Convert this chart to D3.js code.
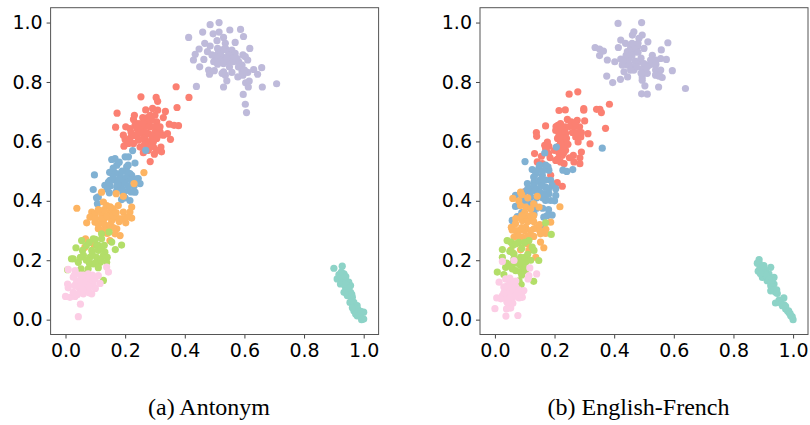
<!DOCTYPE html>
<html>
<head>
<meta charset="utf-8">
<script src="https://cdn.jsdelivr.net/npm/d3@7"></script>
<style>
  html, body { margin: 0; padding: 0; background: #fff; }
  svg { display: block; }
  .tick text { font-family: "DejaVu Sans", sans-serif; font-size: 19px; fill: #000; }
  .caption { font-family: "Liberation Serif", serif; font-size: 24px; fill: #000; text-anchor: middle; }
</style>
</head>
<body>
<script>
// values are [x, y]
var tickValues = [0, 0.2, 0.4, 0.6, 0.8, 1.0];
var captions = ["(a) Antonym", "(b) English-French"];
var groupNames = ["teal", "lavender", "salmon", "blue", "orange", "green", "pink"];
var groupColors = ["#8dd3c7", "#bebada", "#fb8072", "#80b1d3", "#fdb462", "#b3de69", "#fccde5"];

// Antonym
var antonymTeal = [[.900,.173],[.928,.180],[.917,.152],[.934,.154],[.911,.137],[.928,.137],[.939,.132],[.922,.120],[.950,.126],[.956,.115],[.939,.109],[.934,.092],[.956,.092],[.945,.081],[.962,.075],[.954,.058],[.967,.058],[.978,.047],[.967,.030],[.984,.030],[1.0,.025],[.978,.013],[.993,.0],[1.0,.002],[.973,.019],[.990,.013],[.925,.145],[.93,.125],[.94,.12],[.945,.10],[.95,.105],[.925,.16],[.94,.145],[.96,.085],[.97,.04],[.975,.025],[.985,.018],[.98,.035],[.962,.04],[.99,.028]];
var antonymLavender = [[.413,.950],[.485,.993],[.515,1.0],[.460,.968],[.495,.962],[.515,.968],[.551,.975],[.587,.977],[.597,.953],[.530,.950],[.508,.939],[.467,.930],[.485,.921],[.569,.933],[.536,.930],[.448,.911],[.510,.913],[.618,.913],[.435,.893],[.476,.902],[.429,.874],[.464,.876],[.450,.851],[.491,.891],[.502,.879],[.525,.885],[.541,.907],[.558,.907],[.569,.896],[.547,.891],[.530,.862],[.547,.868],[.564,.868],[.581,.868],[.595,.891],[.603,.885],[.611,.874],[.592,.857],[.497,.868],[.480,.840],[.483,.826],[.499,.838],[.530,.834],[.536,.823],[.541,.804],[.558,.832],[.578,.817],[.595,.823],[.611,.832],[.631,.842],[.644,.826],[.658,.848],[.604,.797],[.616,.803],[.613,.783],[.660,.783],[.708,.794],[.439,.785],[.530,.783],[.596,.758],[.603,.725],[.607,.697],[.513,.896],[.536,.913],[.519,.874],[.553,.879],[.575,.879],[.508,.891],[.525,.829],[.592,.834],[.52,.90],[.53,.87],[.55,.89],[.56,.88],[.54,.88],[.57,.88],[.51,.86],[.58,.85],[.53,.91],[.55,.85],[.60,.84]];
var antonymSalmon = [[.371,.784],[.414,.748],[.253,.750],[.304,.748],[.309,.735],[.374,.714],[.269,.706],[.292,.711],[.309,.705],[.335,.701],[.173,.695],[.231,.688],[.228,.674],[.259,.680],[.284,.688],[.300,.688],[.328,.680],[.168,.648],[.202,.649],[.233,.654],[.250,.660],[.272,.666],[.306,.666],[.348,.658],[.364,.654],[.379,.653],[.216,.643],[.239,.643],[.261,.643],[.284,.649],[.317,.649],[.194,.621],[.200,.606],[.196,.584],[.216,.610],[.211,.593],[.239,.621],[.256,.632],[.278,.626],[.300,.632],[.328,.621],[.342,.626],[.352,.607],[.244,.604],[.267,.610],[.289,.604],[.306,.610],[.278,.587],[.261,.562],[.278,.570],[.295,.581],[.320,.581],[.322,.565],[.298,.557],[.284,.532],[.228,.593],[.250,.581],[.306,.570],[.289,.671],[.317,.632],[.26,.66],[.27,.63],[.29,.62],[.28,.65],[.30,.65],[.27,.60],[.29,.59],[.26,.61],[.31,.62],[.25,.63],[.24,.66],[.23,.62],[.285,.67],[.295,.60],[.275,.68],[.31,.65],[.265,.59],[.22,.63]];
var antonymBlue = [[.225,.569],[.269,.570],[.097,.487],[.148,.496],[.155,.539],[.166,.542],[.200,.548],[.211,.548],[.233,.527],[.172,.520],[.205,.514],[.183,.492],[.216,.492],[.244,.475],[.200,.475],[.149,.469],[.093,.438],[.104,.410],[.110,.413],[.107,.390],[.132,.452],[.144,.463],[.166,.469],[.183,.486],[.205,.480],[.222,.486],[.239,.474],[.250,.458],[.233,.429],[.211,.435],[.188,.458],[.172,.446],[.147,.427],[.194,.424],[.216,.401],[.188,.404],[.166,.494],[.207,.497],[.15,.45],[.16,.48],[.18,.47],[.19,.44],[.20,.46],[.21,.45],[.22,.47],[.17,.43],[.19,.50],[.23,.45],[.16,.51],[.18,.53],[.21,.52],[.14,.44],[.22,.43],[.20,.41],[.175,.455]];
var antonymOrange = [[.263,.495],[.230,.458],[.121,.429],[.170,.424],[.194,.415],[.038,.375],[.127,.396],[.138,.384],[.177,.384],[.222,.379],[.088,.362],[.099,.356],[.121,.356],[.149,.362],[.194,.362],[.216,.362],[.222,.342],[.202,.326],[.071,.326],[.099,.328],[.127,.334],[.155,.334],[.177,.340],[.110,.306],[.144,.311],[.172,.306],[.183,.283],[.166,.289],[.067,.272],[.065,.244],[.095,.253],[.149,.266],[.082,.345],[.132,.300],[.160,.373],[.138,.345],[.11,.37],[.12,.34],[.13,.32],[.14,.35],[.15,.32],[.16,.35],[.17,.36],[.18,.33],[.19,.34],[.10,.34],[.11,.32],[.13,.37],[.15,.38],[.12,.30],[.16,.31],[.14,.29],[.205,.345]];
var antonymGreen = [[.121,.289],[.146,.295],[.054,.266],[.093,.272],[.121,.272],[.155,.261],[.188,.251],[.167,.236],[.035,.242],[.057,.233],[.104,.250],[.132,.227],[.026,.205],[.043,.193],[.060,.216],[.082,.210],[.104,.210],[.127,.216],[.138,.193],[.116,.193],[.093,.188],[.052,.171],[.076,.171],[.020,.205],[.007,.168],[.060,.154],[.127,.132],[.088,.233],[.110,.233],[.07,.25],[.08,.19],[.10,.19],[.11,.25],[.12,.24],[.09,.22],[.07,.20],[.12,.20],[.10,.27],[.05,.21],[.13,.25],[.08,.26],[.11,.175],[.14,.21]];
var antonymPink = [[.043,.010],[.050,.052],[.0,.078],[.015,.075],[.032,.078],[.088,.087],[.060,.087],[.007,.120],[.009,.107],[.116,.122],[.144,.160],[.138,.177],[.009,.169],[.026,.143],[.032,.165],[.054,.137],[.076,.154],[.110,.148],[.065,.115],[.043,.109],[.093,.120],[.071,.103],[.048,.092],[.082,.132],[.037,.126],[.026,.092],[.099,.137],[.04,.13],[.05,.115],[.06,.125],[.07,.125],[.08,.11],[.06,.10],[.05,.15],[.07,.14],[.09,.15],[.03,.115],[.08,.09],[.04,.085],[.06,.15],[.10,.105],[.03,.15]];

// English-French
var frenchTeal = [[.886,.202],[.886,.190],[.889,.176],[.883,.163],[.902,.182],[.925,.176],[.908,.165],[.897,.142],[.919,.154],[.936,.142],[.913,.131],[.925,.114],[.936,.120],[.925,.097],[.941,.092],[.947,.088],[.941,.056],[.953,.066],[.969,.073],[.964,.047],[.975,.036],[.986,.024],[.997,.010],[1.0,.0],[.992,.013],[.981,.030],[.908,.148],[.930,.131],[.895,.17],[.90,.16],[.91,.15],[.89,.155],[.92,.135],[.925,.125],[.93,.11],[.935,.10],[.945,.10],[.955,.06],[.96,.055],[.97,.05],[.975,.045],[.985,.03],[.99,.02],[.88,.19],[.90,.18]];
var frenchLavender = [[.413,.997],[.492,1.0],[.466,.969],[.461,.958],[.494,.958],[.483,.947],[.422,.941],[.513,.935],[.580,.932],[.414,.916],[.438,.930],[.336,.916],[.351,.911],[.364,.904],[.351,.889],[.558,.908],[.455,.918],[.478,.918],[.500,.913],[.444,.902],[.472,.902],[.377,.874],[.402,.868],[.422,.877],[.444,.879],[.528,.890],[.483,.868],[.500,.862],[.522,.874],[.539,.874],[.556,.879],[.575,.876],[.427,.857],[.444,.857],[.466,.840],[.433,.834],[.494,.845],[.517,.857],[.539,.840],[.556,.840],[.595,.838],[.375,.820],[.395,.798],[.421,.809],[.445,.817],[.494,.817],[.511,.829],[.494,.806],[.539,.823],[.561,.815],[.550,.829],[.503,.787],[.549,.783],[.639,.778],[.492,.760],[.511,.759],[.461,.907],[.46,.89],[.45,.88],[.44,.89],[.47,.87],[.45,.86],[.43,.87],[.48,.90],[.49,.88],[.50,.84],[.49,.83],[.53,.86],[.54,.86],[.54,.825],[.55,.82],[.51,.85],[.47,.92],[.48,.93],[.46,.93],[.455,.84],[.46,.85],[.475,.85]];
var frenchSalmon = [[.278,.767],[.249,.759],[.215,.704],[.236,.706],[.298,.710],[.298,.705],[.341,.708],[.352,.708],[.357,.697],[.384,.725],[.243,.674],[.256,.666],[.276,.671],[.301,.669],[.170,.652],[.211,.654],[.371,.644],[.139,.630],[.140,.617],[.204,.637],[.220,.643],[.237,.649],[.265,.649],[.284,.649],[.215,.621],[.237,.626],[.312,.626],[.271,.615],[.288,.615],[.279,.598],[.319,.592],[.176,.598],[.167,.587],[.181,.583],[.220,.598],[.232,.598],[.220,.576],[.237,.570],[.290,.564],[.263,.553],[.133,.559],[.156,.550],[.142,.531],[.185,.545],[.204,.536],[.226,.553],[.220,.531],[.265,.531],[.285,.545],[.285,.525],[.159,.525],[.232,.525],[.209,.461],[.187,.486],[.226,.449],[.103,.432],[.215,.635],[.225,.63],[.235,.635],[.21,.61],[.225,.61],[.24,.61],[.215,.585],[.23,.585],[.215,.56],[.23,.56],[.245,.59],[.205,.65],[.225,.65],[.22,.66],[.25,.65],[.26,.63],[.275,.63],[.20,.57],[.17,.575],[.18,.56],[.25,.545],[.21,.54],[.27,.66],[.29,.63]];
var frenchBlue = [[.360,.577],[.101,.532],[.167,.561],[.206,.581],[.228,.503],[.241,.499],[.261,.505],[.125,.505],[.178,.514],[.148,.511],[.181,.503],[.137,.491],[.159,.486],[.187,.469],[.109,.458],[.131,.463],[.153,.458],[.170,.446],[.192,.452],[.125,.441],[.142,.429],[.165,.424],[.097,.429],[.204,.441],[.181,.424],[.069,.418],[.092,.410],[.204,.418],[.187,.401],[.170,.401],[.069,.381],[.120,.413],[.192,.352],[.058,.334],[.075,.347],[.081,.384],[.131,.356],[.164,.345],[.153,.317],[.114,.334],[.131,.390],[.170,.407],[.13,.45],[.14,.44],[.15,.47],[.16,.45],[.13,.48],[.14,.50],[.16,.50],[.15,.43],[.17,.47],[.12,.43],[.11,.44],[.16,.41],[.18,.44],[.14,.41],[.17,.52],[.15,.52],[.14,.375],[.10,.40],[.12,.39],[.16,.375],[.18,.37],[.20,.40],[.105,.34],[.09,.36],[.175,.35]];
var frenchOrange = [[.218,.380],[.086,.429],[.060,.408],[.142,.415],[.086,.384],[.103,.379],[.187,.328],[.148,.379],[.120,.373],[.092,.334],[.069,.323],[.055,.311],[.058,.302],[.103,.311],[.131,.306],[.153,.289],[.171,.304],[.064,.278],[.092,.278],[.120,.283],[.153,.261],[.164,.242],[.053,.233],[.086,.235],[.114,.233],[.137,.210],[.106,.202],[.081,.300],[.109,.339],[.10,.36],[.11,.33],[.12,.35],[.13,.33],[.14,.31],[.15,.32],[.10,.30],[.12,.30],[.09,.31],[.11,.28],[.13,.28],[.07,.30],[.08,.28],[.10,.26],[.15,.30],[.13,.35],[.09,.35],[.07,.34],[.17,.29],[.09,.42],[.08,.40],[.11,.41],[.13,.39],[.11,.255]];
var frenchGreen = [[.189,.287],[.170,.326],[.041,.266],[.053,.261],[.114,.266],[.025,.236],[.125,.244],[.131,.233],[.025,.210],[.064,.221],[.086,.210],[.147,.199],[.036,.176],[.058,.171],[.086,.182],[.103,.193],[.086,.160],[.103,.165],[.030,.152],[.008,.160],[.130,.129],[.081,.131],[.088,.118],[.036,.101],[.064,.205],[.06,.25],[.08,.26],[.10,.26],[.09,.24],[.05,.23],[.07,.19],[.08,.20],[.06,.19],[.09,.19],[.04,.19],[.10,.21],[.07,.165],[.05,.18],[.11,.22],[.10,.17],[.09,.15],[.06,.225],[.12,.20],[.07,.255]];
var frenchPink = [[.037,.012],[.077,.014],[.0,.037],[.053,.039],[.039,.036],[.006,.073],[.025,.075],[.042,.058],[.058,.070],[.081,.073],[.092,.075],[.097,.098],[.075,.092],[.047,.098],[.025,.081],[.064,.109],[.053,.132],[.014,.126],[.036,.137],[.111,.137],[.114,.148],[.140,.154],[.117,.174],[.025,.196],[.064,.199],[.042,.115],[.086,.087],[.064,.081],[.047,.047],[.05,.10],[.06,.09],[.07,.10],[.04,.08],[.05,.07],[.07,.08],[.06,.12],[.05,.12],[.07,.11],[.08,.10],[.03,.09],[.09,.09],[.04,.06],[.06,.055],[.05,.14],[.03,.11],[.07,.13],[.08,.085],[.02,.07]];

var panelSeries = [
  [antonymTeal, antonymLavender, antonymSalmon, antonymBlue, antonymOrange, antonymGreen, antonymPink],
  [frenchTeal, frenchLavender, frenchSalmon, frenchBlue, frenchOrange, frenchGreen, frenchPink]
];

var width = 810;
var height = 425;
var panelLefts = [50.6, 480];
var panelWidth = 328;
var plotTop = 7.7;
var plotBottom = 334.5;

var svg = d3.select("body").append("svg")
  .attr("width", width)
  .attr("height", height);

panelSeries.forEach(function(series, p) {
  var left = panelLefts[p];
  var xScale = d3.scaleLinear().domain([-0.05, 1.05]).range([left, left + panelWidth]);
  var yScale = d3.scaleLinear().domain([-0.05, 1.05]).range([plotBottom, plotTop]);

  var panel = svg.append("g").attr("class", "panel");

  series.forEach(function(points, i) {
    panel.append("g")
      .attr("class", groupNames[i])
      .selectAll("circle")
      .data(points)
      .enter().append("circle")
      .attr("cx", function(d) { return xScale(d[0]); })
      .attr("cy", function(d) { return yScale(d[1]); })
      .attr("r", 3.6)
      .attr("fill", groupColors[i]);
  });

  // Add the axes
  var xAxis = d3.axisBottom(xScale).tickValues(tickValues).tickFormat(d3.format(".1f")).tickSize(4).tickPadding(5);
  var yAxis = d3.axisLeft(yScale).tickValues(tickValues).tickFormat(d3.format(".1f")).tickSize(4).tickPadding(4);

  panel.append("g").attr("transform", "translate(0," + plotBottom + ")").call(xAxis);
  panel.append("g").attr("transform", "translate(" + left + ",0)").call(yAxis);
  panel.selectAll(".domain").remove();
  panel.selectAll(".tick line").attr("stroke", "#444");

  // frame
  panel.append("rect")
    .attr("x", left)
    .attr("y", plotTop)
    .attr("width", panelWidth)
    .attr("height", plotBottom - plotTop)
    .attr("fill", "none")
    .attr("stroke", "#555")
    .attr("stroke-width", 1);

  svg.append("text")
    .attr("class", "caption")
    .attr("x", [209, 638.5][p])
    .attr("y", 415)
    .text(captions[p]);
});
</script>
</body>
</html>
